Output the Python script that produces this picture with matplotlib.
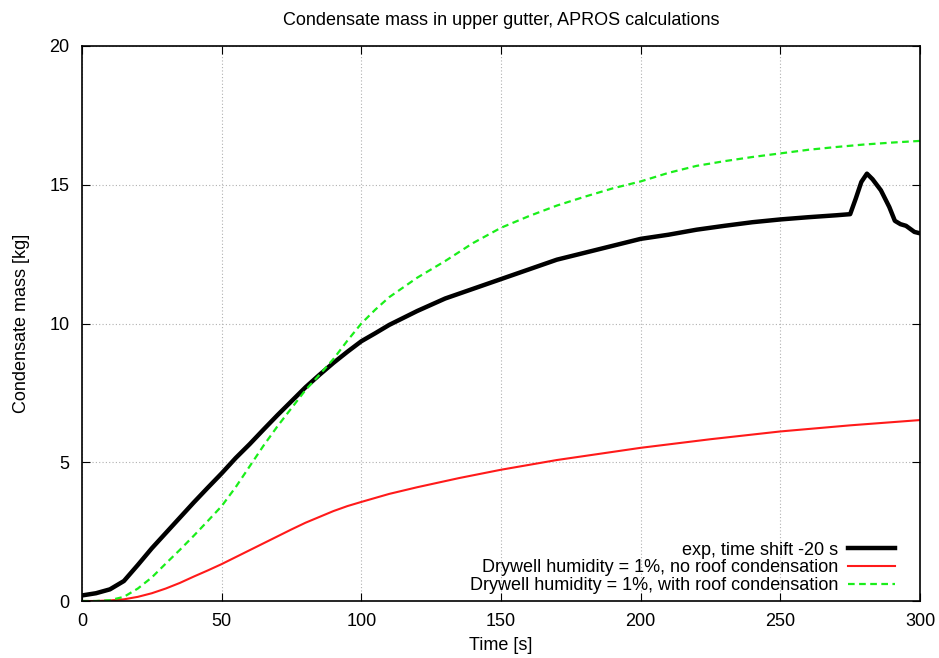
import matplotlib
matplotlib.use("Agg")
import matplotlib.pyplot as plt
import numpy as np

plt.rcParams['font.family'] = ['Liberation Sans', 'DejaVu Sans']

# Experimental condensate mass (time shifted by -20 s)
exp_t = [0, 5, 10, 15, 20, 25, 30, 35, 40, 45, 50, 55, 60, 65, 70, 75, 80, 85, 90,
         95, 100, 105, 110, 115, 120, 130, 140, 150, 160, 170, 180, 190, 200, 210,
         220, 230, 240, 250, 260, 270, 275, 277, 279, 281, 283, 286, 289, 291, 293,
         295, 298, 300]
exp_m = [0.2, 0.28, 0.42, 0.72, 1.3, 1.9, 2.45, 3.0, 3.55, 4.08, 4.6, 5.15, 5.65,
         6.18, 6.7, 7.2, 7.7, 8.15, 8.58, 8.98, 9.36, 9.65, 9.95, 10.2, 10.45, 10.9,
         11.25, 11.6, 11.95, 12.3, 12.55, 12.8, 13.05, 13.2, 13.38, 13.52, 13.65,
         13.75, 13.83, 13.9, 13.94, 14.5, 15.1, 15.4, 15.2, 14.8, 14.2, 13.7, 13.58,
         13.52, 13.3, 13.25]

# APROS: drywell humidity 1 %, no roof condensation
no_roof_t = [0, 5, 10, 15, 20, 25, 30, 35, 40, 45, 50, 55, 60, 65, 70, 75, 80, 85,
             90, 95, 100, 110, 120, 135, 150, 170, 200, 225, 250, 275, 300]
no_roof_m = [0.0, 0.0, 0.02, 0.06, 0.15, 0.28, 0.45, 0.65, 0.88, 1.1, 1.33, 1.58,
             1.83, 2.08, 2.33, 2.58, 2.82, 3.03, 3.24, 3.42, 3.57, 3.86, 4.1, 4.43,
             4.73, 5.08, 5.52, 5.83, 6.11, 6.33, 6.52]

# APROS: drywell humidity 1 %, with roof condensation
roof_t = [0, 5, 10, 15, 20, 25, 30, 35, 40, 45, 50, 55, 60, 65, 70, 75, 80, 85, 90,
          95, 100, 105, 110, 115, 120, 125, 130, 140, 150, 160, 170, 180, 190, 200,
          210, 220, 230, 240, 250, 260, 270, 280, 290, 300]
roof_m = [0.0, 0.0, 0.03, 0.15, 0.45, 0.85, 1.35, 1.84, 2.35, 2.88, 3.42, 4.1, 4.85,
          5.6, 6.3, 6.95, 7.6, 8.15, 8.72, 9.38, 10.0, 10.5, 10.95, 11.3, 11.65, 11.95,
          12.25, 12.9, 13.45, 13.87, 14.25, 14.57, 14.87, 15.12, 15.43, 15.68, 15.85,
          16.0, 16.13, 16.26, 16.36, 16.45, 16.52, 16.58]

fig = plt.figure(figsize=(9.39, 6.58), dpi=100)
ax = fig.add_axes([82 / 939, 57 / 658, 838 / 939, 555 / 658])

ax.plot(exp_t, exp_m, color='black', lw=3.2, label='exp, time shift -20 s',
        solid_joinstyle='round')
ax.plot(no_roof_t, no_roof_m, color='#ff1a1a', lw=1.5,
        label='Drywell humidity = 1%, no roof condensation')
ax.plot(roof_t, roof_m, color='#1aee1a', lw=1.6, ls=(0, (3, 2)),
        label='Drywell humidity = 1%, with roof condensation')

ax.set_xlim(0, 300)
ax.set_ylim(0, 20)
ax.set_xticks(np.arange(0, 301, 50))
ax.set_yticks(np.arange(0, 21, 5))
ax.grid(True, color='#b0b0b0', ls=(0, (1, 2)), lw=0.8)
ax.tick_params(direction='in', top=True, right=True, length=6, labelsize=13,
               pad=9)
for s in ax.spines.values():
    s.set_linewidth(1.2)

ax.set_xlabel('Time [s]', fontsize=13, labelpad=5)
ax.set_ylabel('Condensate mass [kg]', fontsize=13, labelpad=14)
ax.set_title('Condensate mass in upper gutter, APROS calculations', fontsize=13,
             pad=15)

leg = ax.legend(loc='lower right', frameon=False, markerfirst=False, fontsize=13,
                handlelength=2.6, borderaxespad=0, borderpad=0,
                bbox_to_anchor=(0.970, 0.012), labelspacing=0.05,
                handletextpad=0.55)
for t in leg.get_texts():
    t.set_ha('right')
leg._legend_box.align = 'right'

fig.savefig('out.png', dpi=100)
